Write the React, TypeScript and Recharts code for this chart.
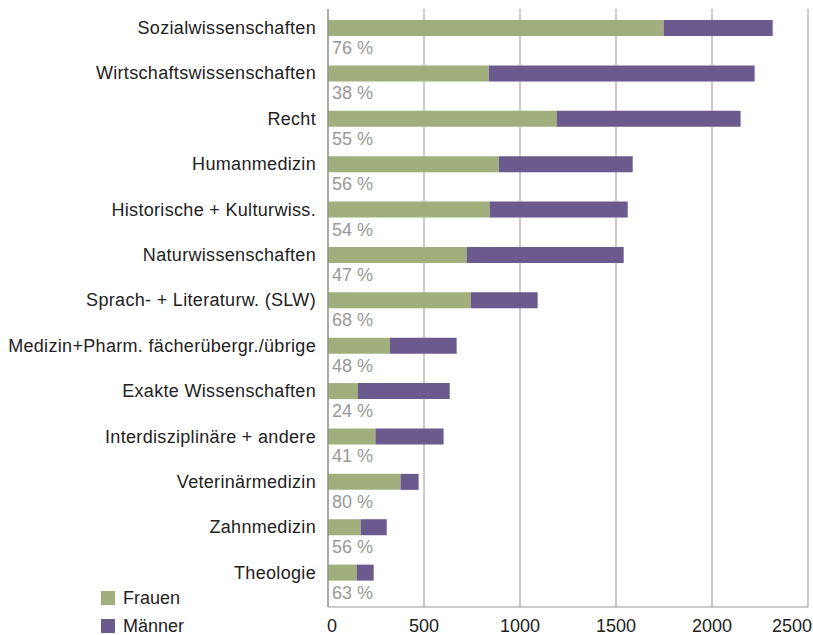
import React from 'react';
import { BarChart, Bar, XAxis, YAxis, CartesianGrid, Legend, LabelList } from 'recharts';

const categories = [
  'Sozialwissenschaften',
  'Wirtschaftswissenschaften',
  'Recht',
  'Humanmedizin',
  'Historische + Kulturwiss.',
  'Naturwissenschaften',
  'Sprach- + Literaturw. (SLW)',
  'Medizin+Pharm. fächerübergr./übrige',
  'Exakte Wissenschaften',
  'Interdisziplinäre + andere',
  'Veterinärmedizin',
  'Zahnmedizin',
  'Theologie',
];
const frauen = [1748, 837, 1191, 889, 842, 722, 743, 322, 155, 247, 378, 170, 149];
const maenner = [568, 1385, 958, 698, 719, 818, 349, 348, 479, 355, 94, 136, 89];
const shareLabels = ['76 %', '38 %', '55 %', '56 %', '54 %', '47 %', '68 %', '48 %', '24 %', '41 %', '80 %', '56 %', '63 %'];
const xTicks = [0, 500, 1000, 1500, 2000, 2500];

const data = categories.map((c, i) => ({
  name: c,
  Frauen: frauen[i],
  Männer: maenner[i],
  share: shareLabels[i],
}));

const FONT = '"Liberation Sans", Arial, sans-serif';
const GREEN = '#a0af7c';
const PURPLE = '#6a5a8e';

const ShareLabel = (props: any) => {
  const { x, y, height, value } = props;
  return (
    <text x={Number(x) + 4} y={Number(y) + Number(height) + 18} fill="#999" fontSize={18} fontFamily={FONT}>
      {value}
    </text>
  );
};

const XTick = (props: any) => {
  const { x, y, payload, index } = props;
  const last = index === xTicks.length - 1;
  const first = index === 0;
  return (
    <text
      x={first ? x - 1 : last ? x + 4 : x}
      y={y + 23}
      textAnchor={first ? 'start' : last ? 'end' : 'middle'}
      fill="#222"
      fontSize={18}
      fontFamily={FONT}
    >
      {payload.value}
    </text>
  );
};

const LegendContent = (props: any) => {
  const { payload } = props;
  return (
    <div style={{ fontFamily: FONT, fontSize: 18, color: '#222' }}>
      {(payload || []).map((p: any) => (
        <div key={p.value} style={{ display: 'flex', alignItems: 'center', height: 28 }}>
          <span style={{ display: 'inline-block', width: 14, height: 14, background: p.color, marginRight: 8 }} />
          <span>{p.value}</span>
        </div>
      ))}
    </div>
  );
};

export default function App() {
  return (
    <div style={{ position: 'absolute', left: 0, top: 0 }}>
      <BarChart
        width={813}
        height={635}
        data={data}
        layout="vertical"
        margin={{ top: 9, right: 5, bottom: 0, left: 0 }}
      >
        <CartesianGrid horizontal={false} vertical stroke="#aaa" strokeWidth={1.2} />
        <XAxis
          type="number"
          domain={[0, 2500]}
          ticks={xTicks}
          height={28}
          tickLine={false}
          tickSize={0}
          axisLine={{ stroke: '#999' }}
          tick={<XTick />}
          interval={0}
        />
        <XAxis xAxisId="top" orientation="top" type="number" domain={[0, 2500]} height={0} tick={false} tickLine={false} axisLine={{ stroke: '#999' }} />
        <YAxis
          type="category"
          dataKey="name"
          width={328}
          tickLine={false}
          tickSize={0}
          tickMargin={12}
          interval={0}
          axisLine={{ stroke: '#888' }}
          padding={{ top: -4, bottom: 12 }}
          tick={{ fill: '#222', fontSize: 18, fontFamily: FONT, letterSpacing: 0.32 }}
        />
        <YAxis yAxisId="right" orientation="right" type="category" dataKey="name" width={0} tick={false} tickLine={false} axisLine={{ stroke: '#999' }} />
        <Legend
          layout="vertical"
          align="center"
          verticalAlign="middle"
          content={<LegendContent />}
          wrapperStyle={{ position: 'absolute', left: 101, top: 584, width: 'auto' }}
        />
        <Bar dataKey="Frauen" stackId="a" fill={GREEN} barSize={16} isAnimationActive={false}>
          <LabelList dataKey="share" content={<ShareLabel />} />
        </Bar>
        <Bar dataKey="Männer" stackId="a" fill={PURPLE} barSize={16} isAnimationActive={false} />
      </BarChart>
    </div>
  );
}
